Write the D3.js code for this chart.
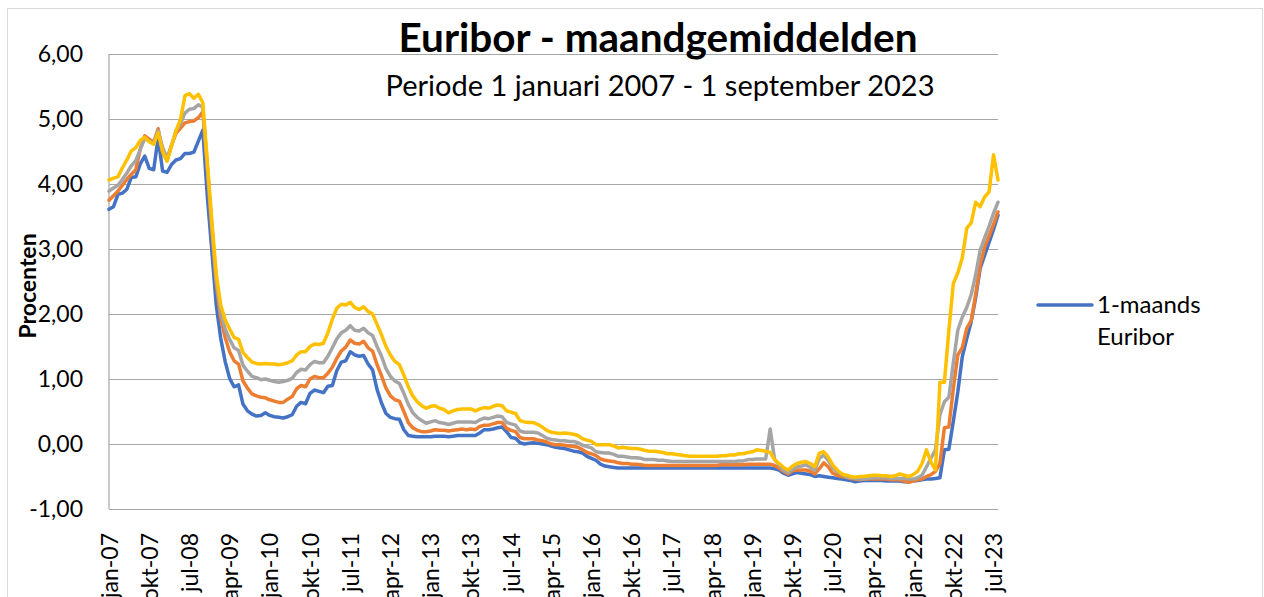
<!DOCTYPE html>
<html>
<head>
<meta charset="utf-8">
<script src="https://cdn.jsdelivr.net/npm/d3@7"></script>
<style>
  body { margin: 0; background: #fff; }
  svg { display: block; font-family: Lato, "Open Sans", sans-serif; }
</style>
</head>
<body>
<div id="chart"></div>
<script>
// month labels
var monthNames = ["jan","feb","mrt","apr","mei","jun","jul","aug","sep","okt","nov","dec"];
var startYear = 2007;
var nMonths = 200; // jan-07 .. aug-23

// series values (monthly)
var euribor1m = [
  3.61, 3.65, 3.84, 3.86, 3.92, 4.10, 4.11, 4.31, 4.43, 4.24, 4.22, 4.71,
  4.20, 4.18, 4.30, 4.37, 4.39, 4.47, 4.47, 4.49, 4.66, 4.83, 3.82, 2.99,
  2.14, 1.63, 1.27, 1.01, 0.88, 0.91, 0.61, 0.51, 0.46, 0.43, 0.44, 0.48,
  0.44, 0.42, 0.41, 0.40, 0.42, 0.45, 0.58, 0.64, 0.62, 0.78, 0.83, 0.81,
  0.79, 0.89, 0.90, 1.13, 1.26, 1.28, 1.42, 1.37, 1.35, 1.36, 1.23, 1.14,
  0.84, 0.63, 0.47, 0.41, 0.39, 0.38, 0.22, 0.13, 0.12, 0.11, 0.11, 0.11,
  0.11, 0.12, 0.12, 0.12, 0.11, 0.12, 0.13, 0.13, 0.13, 0.13, 0.13, 0.17,
  0.22, 0.22, 0.23, 0.25, 0.26, 0.19, 0.10, 0.09, 0.02, 0.00, 0.01, 0.02,
  0.01, 0.00, -0.01, -0.03, -0.05, -0.06, -0.07, -0.09, -0.11, -0.12, -0.14, -0.19,
  -0.22, -0.25, -0.31, -0.34, -0.35, -0.36, -0.37, -0.37, -0.37, -0.37, -0.37, -0.37,
  -0.37, -0.37, -0.37, -0.37, -0.37, -0.37, -0.37, -0.37, -0.37, -0.37, -0.37, -0.37,
  -0.37, -0.37, -0.37, -0.37, -0.37, -0.37, -0.37, -0.37, -0.37, -0.37, -0.37, -0.37,
  -0.37, -0.37, -0.37, -0.37, -0.37, -0.38, -0.40, -0.45, -0.48, -0.46, -0.44, -0.45,
  -0.46, -0.47, -0.50, -0.49, -0.50, -0.51, -0.52, -0.53, -0.54, -0.55, -0.56, -0.58,
  -0.57, -0.56, -0.56, -0.56, -0.56, -0.56, -0.57, -0.57, -0.57, -0.57, -0.58, -0.58,
  -0.57, -0.56, -0.55, -0.54, -0.54, -0.53, -0.52, -0.09, -0.08, 0.35, 0.80, 1.34,
  1.62, 1.88, 2.25, 2.70, 2.90, 3.10, 3.30, 3.52
];
var euribor3m = [
  3.75, 3.82, 3.89, 3.98, 4.07, 4.15, 4.22, 4.54, 4.74, 4.69, 4.64, 4.85,
  4.48, 4.36, 4.60, 4.78, 4.86, 4.94, 4.96, 4.97, 5.02, 5.11, 4.24, 3.29,
  2.46, 1.94, 1.64, 1.42, 1.28, 1.23, 0.97, 0.86, 0.77, 0.74, 0.72, 0.71,
  0.68, 0.66, 0.64, 0.64, 0.69, 0.73, 0.85, 0.90, 0.88, 1.00, 1.04, 1.02,
  1.02, 1.09, 1.18, 1.32, 1.43, 1.49, 1.60, 1.55, 1.54, 1.58, 1.48, 1.43,
  1.22, 1.05, 0.86, 0.74, 0.68, 0.66, 0.50, 0.33, 0.25, 0.21, 0.19, 0.19,
  0.20, 0.22, 0.21, 0.21, 0.20, 0.21, 0.22, 0.23, 0.22, 0.23, 0.22, 0.27,
  0.29, 0.29, 0.31, 0.33, 0.33, 0.24, 0.21, 0.19, 0.10, 0.08, 0.08, 0.08,
  0.06, 0.05, 0.03, 0.00, -0.01, -0.01, -0.02, -0.03, -0.04, -0.05, -0.09, -0.13,
  -0.15, -0.18, -0.23, -0.25, -0.26, -0.27, -0.29, -0.30, -0.30, -0.31, -0.31, -0.32,
  -0.33, -0.33, -0.33, -0.33, -0.33, -0.33, -0.33, -0.33, -0.33, -0.33, -0.33, -0.33,
  -0.33, -0.33, -0.33, -0.33, -0.33, -0.32, -0.32, -0.32, -0.32, -0.32, -0.32, -0.31,
  -0.31, -0.31, -0.31, -0.31, -0.31, -0.33, -0.37, -0.42, -0.46, -0.41, -0.40, -0.40,
  -0.40, -0.42, -0.46, -0.38, -0.29, -0.35, -0.45, -0.48, -0.50, -0.51, -0.53, -0.54,
  -0.55, -0.54, -0.54, -0.54, -0.54, -0.54, -0.54, -0.55, -0.55, -0.55, -0.57, -0.59,
  -0.57, -0.55, -0.54, -0.50, -0.47, -0.42, -0.30, 0.25, 0.26, 0.85, 1.37, 1.48,
  1.78, 1.90, 2.30, 2.75, 3.03, 3.20, 3.38, 3.57
];
var euribor6m = [
  3.89, 3.94, 3.98, 4.07, 4.17, 4.28, 4.36, 4.53, 4.71, 4.66, 4.63, 4.82,
  4.56, 4.40, 4.59, 4.82, 4.93, 5.09, 5.15, 5.16, 5.22, 5.18, 4.29, 3.37,
  2.54, 2.03, 1.77, 1.61, 1.48, 1.44, 1.21, 1.12, 1.04, 1.02, 0.99, 1.00,
  0.98, 0.96, 0.95, 0.96, 0.98, 1.01, 1.10, 1.15, 1.14, 1.22, 1.27, 1.25,
  1.25, 1.35, 1.48, 1.62, 1.71, 1.75, 1.82, 1.75, 1.74, 1.78, 1.71, 1.67,
  1.50, 1.35, 1.16, 1.04, 0.97, 0.93, 0.78, 0.61, 0.48, 0.41, 0.36, 0.32,
  0.34, 0.36, 0.33, 0.32, 0.30, 0.32, 0.34, 0.34, 0.34, 0.34, 0.33, 0.37,
  0.40, 0.39, 0.41, 0.43, 0.42, 0.33, 0.31, 0.29, 0.20, 0.18, 0.18, 0.18,
  0.17, 0.13, 0.09, 0.07, 0.06, 0.05, 0.05, 0.04, 0.04, 0.02, -0.02, -0.04,
  -0.06, -0.12, -0.13, -0.14, -0.14, -0.16, -0.19, -0.19, -0.20, -0.21, -0.21, -0.22,
  -0.24, -0.24, -0.24, -0.25, -0.25, -0.26, -0.27, -0.27, -0.27, -0.27, -0.27, -0.27,
  -0.27, -0.27, -0.27, -0.27, -0.27, -0.27, -0.27, -0.27, -0.27, -0.26, -0.26, -0.24,
  -0.24, -0.23, -0.23, -0.23, 0.23, -0.24, -0.32, -0.40, -0.44, -0.39, -0.35, -0.34,
  -0.32, -0.36, -0.40, -0.22, -0.17, -0.25, -0.36, -0.43, -0.46, -0.51, -0.52, -0.53,
  -0.54, -0.54, -0.53, -0.52, -0.52, -0.52, -0.52, -0.53, -0.53, -0.53, -0.53, -0.54,
  -0.54, -0.52, -0.48, -0.35, -0.22, -0.09, 0.45, 0.65, 0.72, 1.25, 1.75, 1.95,
  2.10, 2.30, 2.60, 2.98, 3.17, 3.35, 3.55, 3.72
];
var euribor12m = [
  4.06, 4.09, 4.11, 4.25, 4.37, 4.51, 4.56, 4.67, 4.72, 4.65, 4.61, 4.79,
  4.50, 4.35, 4.59, 4.82, 4.99, 5.36, 5.39, 5.32, 5.38, 5.25, 4.35, 3.45,
  2.62, 2.14, 1.91, 1.77, 1.64, 1.61, 1.41, 1.33, 1.26, 1.24, 1.23, 1.24,
  1.23, 1.23, 1.22, 1.23, 1.25, 1.28, 1.37, 1.42, 1.42, 1.50, 1.54, 1.53,
  1.55, 1.71, 1.92, 2.09, 2.15, 2.14, 2.18, 2.10, 2.07, 2.11, 2.04, 2.00,
  1.84, 1.68, 1.50, 1.37, 1.27, 1.22, 1.06, 0.88, 0.74, 0.65, 0.59, 0.55,
  0.58, 0.59, 0.55, 0.53, 0.48, 0.51, 0.53, 0.54, 0.54, 0.54, 0.51, 0.54,
  0.56, 0.55, 0.58, 0.60, 0.59, 0.51, 0.49, 0.47, 0.36, 0.34, 0.33, 0.33,
  0.30, 0.26, 0.21, 0.18, 0.17, 0.16, 0.17, 0.16, 0.15, 0.13, 0.08, 0.06,
  0.04, -0.01, -0.01, -0.01, -0.01, -0.03, -0.06, -0.05, -0.06, -0.07, -0.07, -0.08,
  -0.10, -0.11, -0.11, -0.12, -0.13, -0.15, -0.15, -0.16, -0.17, -0.18, -0.19, -0.19,
  -0.19, -0.19, -0.19, -0.19, -0.19, -0.18, -0.18, -0.17, -0.17, -0.15, -0.15, -0.13,
  -0.12, -0.09, -0.10, -0.11, -0.13, -0.24, -0.30, -0.36, -0.40, -0.34, -0.30, -0.28,
  -0.27, -0.30, -0.35, -0.14, -0.12, -0.20, -0.32, -0.40, -0.46, -0.48, -0.50, -0.51,
  -0.50, -0.50, -0.49, -0.48, -0.48, -0.49, -0.49, -0.50, -0.49, -0.46, -0.48, -0.50,
  -0.47, -0.42, -0.30, -0.09, -0.28, -0.40, 0.95, 0.95, 1.75, 2.47, 2.63, 2.86,
  3.32, 3.40, 3.72, 3.65, 3.80, 3.88, 4.45, 4.06
];
var yTicks = [-1, 0, 1, 2, 3, 4, 5, 6];

var series = [
  { name: "1-maands Euribor", values: euribor1m, color: "#4472c4" },
  { name: "3-maands Euribor", values: euribor3m, color: "#ed7d31" },
  { name: "6-maands Euribor", values: euribor6m, color: "#a5a5a5" },
  { name: "12-maands Euribor", values: euribor12m, color: "#ffc000" }
];

var width = 1264, height = 597;
var plot = { left: 109, right: 998, top: 54, bottom: 509 };

var labels = d3.range(nMonths).map(function(i) {
  var yr = startYear + Math.floor(i / 12);
  return monthNames[i % 12] + "-" + String(yr).slice(2);
});

var svg = d3.select("#chart").append("svg")
  .attr("width", width)
  .attr("height", height);

// chart area border
svg.append("rect")
  .attr("x", 7.5).attr("y", 8.5)
  .attr("width", 1255).attr("height", 620)
  .attr("fill", "none")
  .attr("stroke", "#d9d9d9");

var xScale = d3.scaleLinear().domain([0, nMonths - 1]).range([plot.left, plot.right]);
var yScale = d3.scaleLinear().domain([-1, 6]).range([plot.bottom, plot.top]);

// y axis + gridlines
var yAxis = svg.append("g")
  .attr("transform", "translate(" + plot.left + ",0)")
  .call(d3.axisLeft(yScale)
    .tickValues(yTicks)
    .tickSize(-(plot.right - plot.left))
    .tickPadding(26)
    .tickFormat(function(d) { return d.toFixed(2).replace(".", ","); }));
yAxis.select(".domain").remove();
yAxis.selectAll(".tick line").attr("stroke", "#a6a6a6").attr("stroke-width", 1.2);
yAxis.selectAll(".tick text")
  .attr("fill", "#000")
  .style("font-size", "23px")
  .style("font-family", "Lato, sans-serif");

svg.append("line")
  .attr("x1", plot.left).attr("x2", plot.left)
  .attr("y1", plot.top).attr("y2", plot.bottom)
  .attr("stroke", "#a6a6a6").attr("stroke-width", 1.2);

// x axis labels (every 9 months)
var xAxis = svg.append("g")
  .attr("transform", "translate(0," + plot.bottom + ")")
  .call(d3.axisBottom(xScale)
    .tickValues(d3.range(0, nMonths, 9))
    .tickSize(0)
    .tickFormat(function(i) { return labels[i]; }));
xAxis.select(".domain").remove();
xAxis.selectAll(".tick text")
  .attr("fill", "#000")
  .style("font-size", "23px")
  .style("font-family", "Lato, sans-serif")
  .attr("text-anchor", "end")
  .attr("transform", "translate(0,24) rotate(-90)")
  .attr("x", 0).attr("y", 0).attr("dy", "0.35em");

// lines
var line = d3.line()
  .x(function(d, i) { return xScale(i); })
  .y(function(d) { return yScale(d); });

svg.append("g").selectAll("path").data(series).enter().append("path")
  .attr("d", function(s) { return line(s.values); })
  .attr("fill", "none")
  .attr("stroke", function(s) { return s.color; })
  .attr("stroke-width", 3.5)
  .attr("stroke-linejoin", "round")
  .attr("stroke-linecap", "round");

// titles
svg.append("text")
  .attr("x", 658).attr("y", 52)
  .attr("text-anchor", "middle")
  .style("font-size", "40.5px").style("font-weight", "bold")
  .text("Euribor - maandgemiddelden");

svg.append("text")
  .attr("x", 660).attr("y", 96)
  .attr("text-anchor", "middle")
  .style("font-size", "29px")
  .text("Periode 1 januari 2007 - 1 september 2023");

svg.append("text")
  .attr("transform", "translate(36,286) rotate(-90)")
  .attr("text-anchor", "middle")
  .style("font-size", "23px").style("font-weight", "bold")
  .text("Procenten");

// legend (only first entry visible)
var leg = svg.append("g").attr("transform", "translate(1038,305)");
leg.append("line")
  .attr("x1", 0).attr("x2", 54)
  .attr("stroke", series[0].color).attr("stroke-width", 3.5)
  .attr("stroke-linecap", "round");
leg.append("text")
  .attr("x", 59).attr("y", 8)
  .style("font-size", "24px")
  .text("1-maands");
leg.append("text")
  .attr("x", 59).attr("y", 40)
  .style("font-size", "24px")
  .text("Euribor");
</script>
</body>
</html>
